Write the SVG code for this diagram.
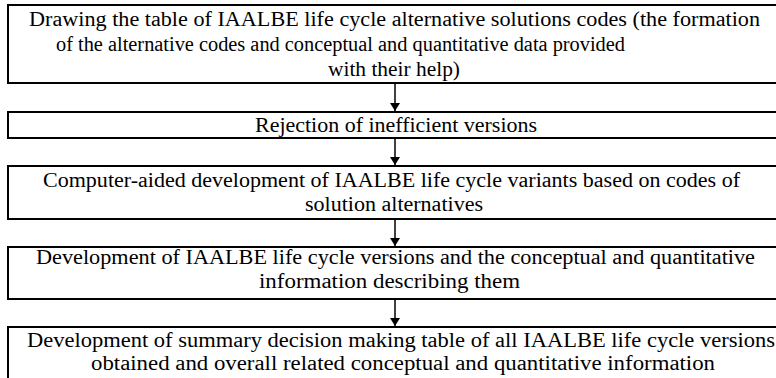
<svg xmlns="http://www.w3.org/2000/svg" width="776" height="378" viewBox="0 0 776 378">
  <style>
    .box { fill: #ffffff; stroke: #000000; stroke-width: 2; }
    .lbl { font-family: "Liberation Serif", "Times New Roman", Times, "DejaVu Serif", serif; font-size: 20px; fill: #000000; }
    .link { stroke: #000000; stroke-width: 1.5; fill: none; }
  </style>
  <defs>
    <marker id="head" viewBox="0 0 8 10" refX="8" refY="5" markerWidth="8" markerHeight="10" markerUnits="userSpaceOnUse" orient="auto">
      <path d="M0,0 L8,5 L0,10 Z" fill="#000000"/>
    </marker>
  </defs>
  <rect width="776" height="378" fill="#ffffff"/>

  <!-- arrows between consecutive steps -->
  <g id="connectors">
    <line class="link" x1="395" y1="84" x2="395" y2="111" marker-end="url(#head)"/>
    <line class="link" x1="395" y1="139" x2="395" y2="165" marker-end="url(#head)"/>
    <line class="link" x1="395" y1="220" x2="395" y2="246" marker-end="url(#head)"/>
    <line class="link" x1="395" y1="300" x2="395" y2="326" marker-end="url(#head)"/>
  </g>

  <g id="step1">
    <rect class="box" x="8" y="5" width="790" height="78"/>
    <text class="lbl" x="29" y="26" textLength="731" lengthAdjust="spacingAndGlyphs">Drawing the table of IAALBE life cycle alternative solutions codes (the formation</text>
    <text class="lbl" x="56" y="51" textLength="569" lengthAdjust="spacingAndGlyphs">of the alternative codes and conceptual and quantitative data provided</text>
    <text class="lbl" x="328" y="76" textLength="132" lengthAdjust="spacingAndGlyphs">with their help)</text>
  </g>

  <g id="step2">
    <rect class="box" x="8" y="112" width="790" height="26"/>
    <text class="lbl" x="255" y="132" textLength="282" lengthAdjust="spacingAndGlyphs">Rejection of inefficient versions</text>
  </g>

  <g id="step3">
    <rect class="box" x="8" y="166" width="790" height="53"/>
    <text class="lbl" x="43" y="187" textLength="697" lengthAdjust="spacingAndGlyphs">Computer-aided development of IAALBE life cycle variants based on codes of</text>
    <text class="lbl" x="305" y="211" textLength="178" lengthAdjust="spacingAndGlyphs">solution alternatives</text>
  </g>

  <g id="step4">
    <rect class="box" x="8" y="247" width="790" height="52"/>
    <text class="lbl" x="36" y="264" textLength="719" lengthAdjust="spacingAndGlyphs">Development of IAALBE life cycle versions and the conceptual and quantitative</text>
    <text class="lbl" x="259" y="288" textLength="261" lengthAdjust="spacingAndGlyphs">information describing them</text>
  </g>

  <g id="step5">
    <rect class="box" x="8" y="327" width="790" height="60"/>
    <text class="lbl" x="27" y="347" textLength="748" lengthAdjust="spacingAndGlyphs">Development of summary decision making table of all IAALBE life cycle versions</text>
    <text class="lbl" x="91" y="370" textLength="624" lengthAdjust="spacingAndGlyphs">obtained and overall related conceptual and quantitative information</text>
  </g>
</svg>
